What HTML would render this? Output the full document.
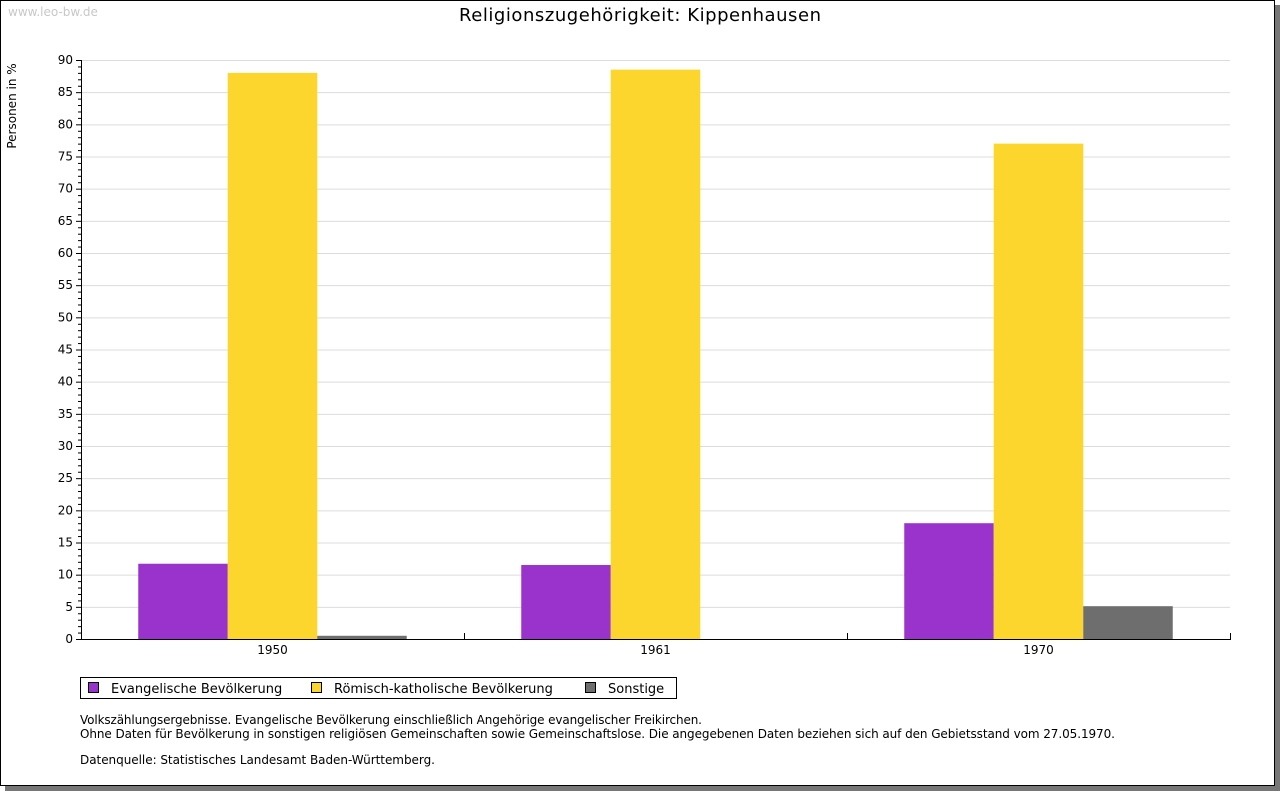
<!DOCTYPE html>
<html><head><meta charset="utf-8"><style>
body{margin:0;background:#fff;font-family:"DejaVu Sans","Liberation Sans",sans-serif;}
#frame{position:absolute;left:0;top:0;width:1273px;height:784px;border:1px solid #000;background:#fff;box-shadow:5px 5px 0 #777;}
</style></head><body>
<div id="frame"></div>
<svg id="c" width="1280" height="791" style="position:absolute;left:0;top:0" font-family="DejaVu Sans, Liberation Sans, sans-serif">
<text x="8" y="16" font-size="12" fill="#c8c8c8">www.leo-bw.de</text>
<text x="640" y="21" font-size="18" text-anchor="middle" textLength="362" fill="#000">Religionszugehörigkeit: Kippenhausen</text>
<text transform="translate(16,106) rotate(-90)" font-size="12" text-anchor="middle">Personen in %</text>
<g id="grid"></g><g id="bars"></g><g id="axes"></g>
<g>
<rect x="80.5" y="677.5" width="596" height="21" fill="#fff" stroke="#000"/>
<rect x="88.5" y="682.5" width="10" height="10" fill="#9933cc" stroke="#000"/>
<text x="111" y="693" font-size="13">Evangelische Bevölkerung</text>
<rect x="311.5" y="682.5" width="10" height="10" fill="#fcd62d" stroke="#000"/>
<text x="334" y="693" font-size="13">Römisch-katholische Bevölkerung</text>
<rect x="585.5" y="682.5" width="10" height="10" fill="#6e6e6e" stroke="#000"/>
<text x="608" y="693" font-size="13">Sonstige</text>
</g>
<g font-size="12">
<text x="80" y="724" textLength="622">Volkszählungsergebnisse. Evangelische Bevölkerung einschließlich Angehörige evangelischer Freikirchen.</text>
<text x="80" y="738" textLength="1035">Ohne Daten für Bevölkerung in sonstigen religiösen Gemeinschaften sowie Gemeinschaftslose. Die angegebenen Daten beziehen sich auf den Gebietsstand vom 27.05.1970.</text>
<text x="80" y="764" textLength="355">Datenquelle: Statistisches Landesamt Baden-Württemberg.</text>
</g>
</svg>
<script>
const categories=["1950","1961","1970"];
const evangelisch=[11.7,11.5,18.0];
const katholisch=[88.0,88.5,77.0];
const sonstige=[0.5,0,5.1];
const yTicks=[0,5,10,15,20,25,30,35,40,45,50,55,60,65,70,75,80,85,90];
const NS="http://www.w3.org/2000/svg";
const L=81,R=1230,T=60,B=639,YMAX=90;
const y=v=>B-(v/YMAX)*(B-T);
const gw=(R-L)/categories.length, bw=89.5;
function mk(p,tag,a){const e=document.createElementNS(NS,tag);for(const k in a)e.setAttribute(k,a[k]);p.appendChild(e);return e;}
const grid=document.getElementById('grid'),bars=document.getElementById('bars'),axes=document.getElementById('axes');
yTicks.forEach(t=>{
 if(t>0){const g=mk(grid,'line',{x1:L,x2:R,y1:y(t)+.5,y2:y(t)+.5,stroke:'#dcdcdc'});
 
 }
 const tx=mk(axes,'text',{x:L-8,y:y(t)+4,'font-size':12,'text-anchor':'end'});tx.textContent=t;
 
 
});
for(let v=0;v<=YMAX;v++){mk(axes,'line',{x1:L-(v%5?3:5),x2:L,y1:y(v)+.5,y2:y(v)+.5,stroke:'#000'});}
const series=[[evangelisch,'#9933cc','evangelisch'],[katholisch,'#fcd62d','katholisch'],[sonstige,'#6e6e6e','sonstige']];
categories.forEach((c,i)=>{
 const x0=L+i*gw+(gw-3*bw)/2;
 series.forEach((s,j)=>{const v=s[0][i];if(v<=0)return;
  const r=mk(bars,'rect',{x:x0+j*bw,y:y(v),width:bw,height:B-y(v),fill:s[1]});
  
  });
 const tx=mk(axes,'text',{x:L+(i+.5)*gw,y:B+15,'font-size':12,'text-anchor':'middle'});tx.textContent=c;
 
 
 mk(axes,'line',{x1:L+(i+1)*gw+.5,x2:L+(i+1)*gw+.5,y1:B-6,y2:B,stroke:'#000'});
});
mk(axes,'line',{x1:L+.5,x2:L+.5,y1:T,y2:B,stroke:'#000'});
mk(axes,'line',{x1:L,x2:R+1,y1:B+.5,y2:B+.5,stroke:'#000'});
</script>
</body></html>
